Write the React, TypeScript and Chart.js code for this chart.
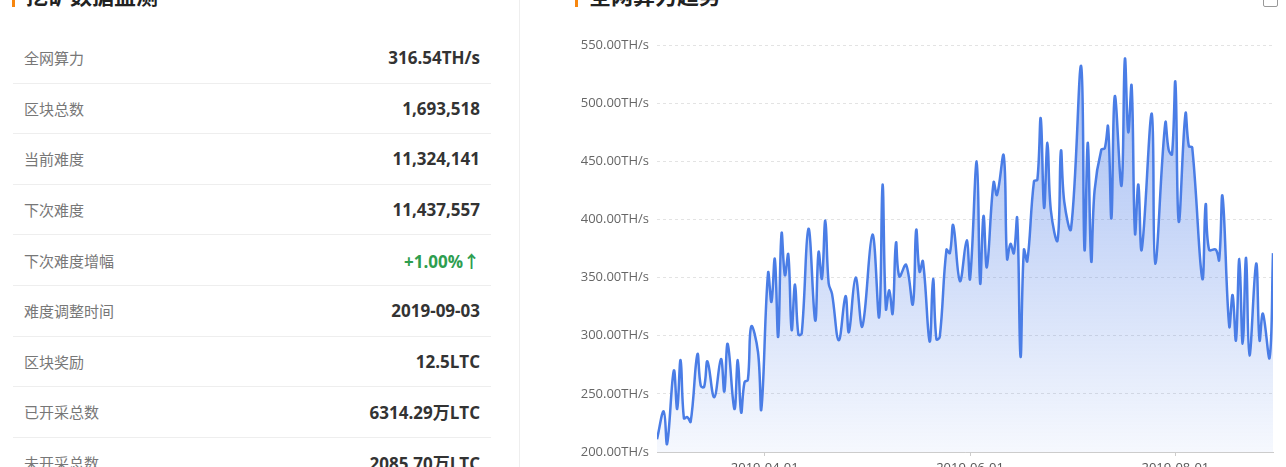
import React, { useEffect, useRef } from "react";
import { Chart, registerables } from "chart.js";

Chart.register(...registerables);

const START_DATE = "2019-03-01";
const DAY_OFFSETS = [-1,1,2,4,5,6,7,8,9,11,12,13,14,16,18,19,20,22,23,24,25,26,27,29,30,32,33,34,35,36,37,38,39,40,41,42,44,46,47,48,49,50,51,53,55,56,58,60,63,65,66,67,68,69,70,71,73,75,76,77,78,80,81,82,83,85,86,87,89,91,92,94,95,96,97,99,100,102,103,104,105,106,107,108,109,111,112,113,114,115,116,118,119,120,122,125,126,127,128,129,131,132,133,134,135,137,138,139,140,141,142,143,146,147,150,151,152,153,154,156,157,158,161,162,163,165,166,167,169,170,171,172,173,174,175,177,178,179,181,182];
const HASHRATE = [211,235,207,270,237,279,229,230,226,284,257,256,278,247,280,252,293,237,279,234,260,262,308,286,237,354,329,366,299,388,352,370,305,344,301,302,392,313,372,349,399,345,336,296,334,303,350,308,387,316,430,323,339,319,380,351,361,327,391,355,364,295,349,297,299,374,371,395,347,382,349,450,345,403,359,432,421,455,366,379,371,401,282,374,364,433,434,487,410,466,408,382,459,415,392,532,374,466,364,425,460,461,480,401,506,429,538,475,515,388,430,374,491,362,483,460,456,518,398,491,463,462,349,413,374,374,365,420,308,335,296,366,293,367,283,362,296,319,281,371];
const X_TICK_LABELS = ["2019-04-01", "2019-06-01", "2019-08-01"];
const Y_MIN = 200;
const Y_MAX = 550;
const Y_STEP = 50;

const STAT_LABELS = ["全网算力", "区块总数", "当前难度", "下次难度", "下次难度增幅", "难度调整时间", "区块奖励", "已开采总数", "未开采总数"];
const STAT_VALUES = ["316.54TH/s", "1,693,518", "11,324,141", "11,437,557", "+1.00%↑", "2019-09-03", "12.5LTC", "6314.29万LTC", "2085.70万LTC"];

const dayOf = (s: string) => Math.round((Date.parse(s) - Date.parse(START_DATE)) / 86400000);
const TICK_DAYS = X_TICK_LABELS.map(dayOf);

const FONT = "'Open Sans', 'Noto Sans CJK SC', sans-serif";

export default function App() {
  const ref = useRef<HTMLCanvasElement | null>(null);
  useEffect(() => {
    if (!ref.current) return;
    const chart = new Chart(ref.current, {
      type: "line",
      data: {
        datasets: [
          {
            data: DAY_OFFSETS.map((d, i) => ({ x: d, y: HASHRATE[i] })),
            borderColor: "#4a7de6",
            borderWidth: 2.5,
            pointRadius: 0,
            tension: 0.4,
            fill: "start",
            backgroundColor: (ctx: any) => {
              const area = ctx.chart.chartArea;
              if (!area) return "rgba(74,125,230,0.3)";
              const g = ctx.chart.ctx.createLinearGradient(0, area.top, 0, area.bottom);
              g.addColorStop(0, "rgba(70,120,230,0.5)");
              g.addColorStop(1, "rgba(70,120,230,0.05)");
              return g;
            },
          },
        ],
      },
      options: {
        responsive: false,
        animation: false,
        layout: { padding: { top: 45, right: 13, left: 0, bottom: 0 } },
        plugins: { legend: { display: false }, tooltip: { enabled: false } },
        scales: {
          x: {
            type: "linear",
            min: DAY_OFFSETS[0],
            max: DAY_OFFSETS[DAY_OFFSETS.length - 1],
            afterBuildTicks: (scale: any) => {
              scale.ticks = TICK_DAYS.map((v) => ({ value: v }));
            },
            afterFit: (scale: any) => {
              scale.height = 38;
            },
            ticks: {
              autoSkip: false,
              maxRotation: 0,
              padding: 4,
              color: "#555",
              font: { size: 13, family: FONT },
              callback: (v: any) => {
                const i = TICK_DAYS.indexOf(Number(v));
                return i >= 0 ? X_TICK_LABELS[i] : "";
              },
            },
            grid: { drawOnChartArea: false, drawTicks: true, tickLength: 4, color: "#ccc" },
            border: { display: true, color: "#ccc" },
          },
          y: {
            min: Y_MIN,
            max: Y_MAX,
            afterFit: (scale: any) => {
              scale.width = 97;
            },
            ticks: {
              stepSize: Y_STEP,
              padding: 8,
              color: "#666",
              font: { size: 13, family: FONT },
              callback: (v: any) => Number(v).toFixed(2) + "TH/s",
            },
            grid: { color: "#e3e3e3", drawTicks: false },
            border: { display: false, dash: [3, 3] },
          },
        },
      },
    });
    return () => chart.destroy();
  }, []);

  return (
    <div style={{ position: "fixed", left: 0, top: 0, width: 1286, height: 467, overflow: "hidden", background: "#fff", fontFamily: FONT }}>
      {/* left title */}
      <div style={{ position: "absolute", left: 12, top: -8, width: 3, height: 15, background: "#f7860f" }} />
      <div style={{ position: "absolute", left: 26, top: -19, fontSize: 22, fontWeight: 700, color: "#222", lineHeight: "26px", fontFamily: "'Noto Sans CJK SC', sans-serif" }}>挖矿数据监测</div>
      {/* right title */}
      <div style={{ position: "absolute", left: 575, top: -8, width: 3, height: 15, background: "#f7860f" }} />
      <div style={{ position: "absolute", left: 589, top: -19, fontSize: 22, fontWeight: 700, color: "#222", lineHeight: "26px", fontFamily: "'Noto Sans CJK SC', sans-serif" }}>全网算力趋势</div>
      <div style={{ position: "absolute", left: 1263, top: -8, width: 13, height: 13, border: "1.5px solid #999", borderRadius: 2 }} />
      {/* divider */}
      <div style={{ position: "absolute", left: 519, top: 0, width: 1, height: 467, background: "#eee" }} />
      {/* stats */}
      <div style={{ position: "absolute", left: 13, top: 33, width: 478 }}>
        {STAT_LABELS.map((l, i) => (
          <div key={l} style={{ height: 50.6, boxSizing: "border-box", borderBottom: "1px solid #eee", display: "flex", alignItems: "center", justifyContent: "space-between", padding: "0 11px" }}>
            <span style={{ fontSize: 15, color: "#777", fontFamily: "'Noto Sans CJK SC', sans-serif" }}>{l}</span>
            <span style={{ fontSize: 17, fontWeight: 700, color: STAT_VALUES[i].startsWith("+") ? "#2e9e4f" : "#333" }}>{STAT_VALUES[i]}</span>
          </div>
        ))}
      </div>
      {/* chart */}
      <div style={{ position: "absolute", left: 560, top: 0, width: 726, height: 490 }}>
        <canvas ref={ref} width={726} height={490} style={{ width: 726, height: 490, display: "block" }} />
      </div>
    </div>
  );
}
